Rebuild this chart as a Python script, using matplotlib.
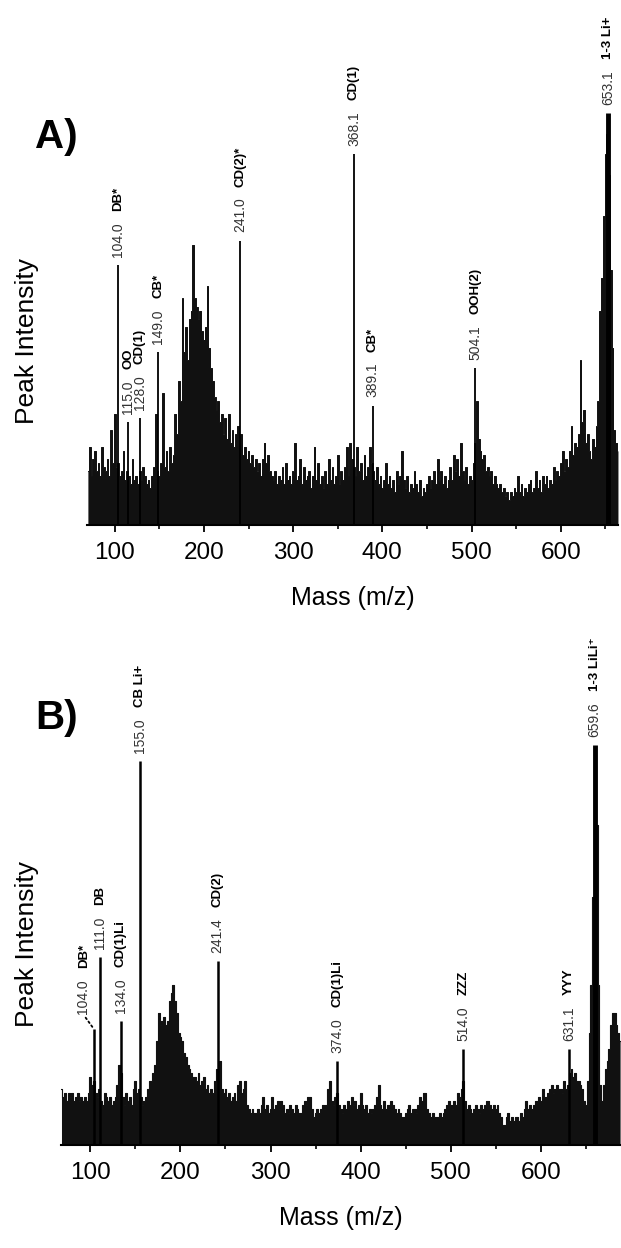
import matplotlib.pyplot as plt
from matplotlib.ticker import MultipleLocator

plt.rcParams['font.family'] = ['Liberation Sans', 'DejaVu Sans']

# ---- panel A: spectrum (m/z step 2), intensity in % of the base peak
mass_a = list(range(70, 666, 2))
int_a = [
    13, 19, 12, 16, 18, 13, 15, 12, 19, 14,
    13, 16, 12, 23, 15, 27, 14, 15, 12, 13,
    18, 11, 13, 12, 10, 16, 11, 12, 10, 13,
    11, 14, 12, 10, 11, 9, 12, 14, 27, 13,
    12, 15, 32, 14, 18, 13, 19, 15, 17, 27,
    22, 35, 30, 55, 42, 48, 40, 50, 52, 68,
    55, 53, 50, 52, 47, 45, 48, 58, 43, 38,
    35, 31, 28, 30, 25, 27, 22, 26, 21, 27,
    20, 23, 19, 22, 24, 20, 22, 17, 19, 16,
    18, 15, 17, 14, 16, 13, 15, 12, 16, 20,
    15, 17, 13, 12, 11, 13, 10, 12, 11, 14,
    10, 15, 11, 12, 10, 13, 20, 11, 12, 16,
    10, 14, 11, 12, 13, 9, 12, 19, 11, 15,
    10, 12, 9, 13, 10, 16, 11, 14, 10, 12,
    17, 10, 13, 11, 14, 19, 12, 20, 16, 14,
    12, 19, 13, 15, 11, 17, 12, 14, 19, 15,
    13, 11, 14, 10, 12, 9, 11, 15, 10, 12,
    9, 11, 8, 13, 10, 12, 18, 11, 9, 12,
    8, 10, 9, 13, 10, 8, 11, 7, 9, 8,
    10, 12, 9, 11, 13, 10, 16, 11, 13, 10,
    12, 9, 11, 14, 11, 17, 13, 16, 12, 20,
    13, 11, 14, 10, 12, 11, 15, 20, 30, 21,
    18, 16, 17, 13, 14, 12, 13, 10, 12, 10,
    9, 10, 8, 9, 7, 8, 6, 8, 7, 9,
    8, 12, 8, 10, 7, 9, 8, 10, 11, 8,
    9, 13, 9, 11, 8, 12, 10, 12, 9, 11,
    10, 14, 11, 13, 12, 15, 18, 13, 16, 14,
    18, 24, 17, 20, 19, 22, 40, 25, 28, 20,
    22, 18, 16, 21, 19, 24, 30, 52, 60, 75,
    90, 95, 85, 62, 43, 23, 20, 18,
]
peak_mass_a = [104.0, 115.0, 128.0, 149.0, 241.0, 368.1, 389.1, 504.1, 653.1]
peak_int_a = [63, 25, 26, 42, 69, 90, 29, 38, 100]
peak_num_a = ["104.0", "115.0", "128.0", "149.0", "241.0", "368.1", "389.1", "504.1", "653.1"]
peak_name_a = ["DB*", "OO", "CD(1)", "CB*", "CD(2)*", "CD(1)", "CB*", "OOH(2)", "1-3 Li+"]

# ---- panel B
mass_b = list(range(68, 690, 2))
int_b = [
    14, 12, 13, 11, 13, 12, 13, 11, 12, 13,
    11, 12, 11, 12, 11, 13, 17, 15, 16, 13,
    12, 14, 11, 10, 13, 12, 11, 12, 10, 11,
    12, 15, 20, 18, 12, 10, 13, 11, 12, 10,
    14, 16, 13, 14, 12, 10, 11, 12, 14, 16,
    16, 18, 20, 26, 33, 30, 31, 32, 30, 31,
    36, 38, 40, 36, 33, 28, 27, 26, 23, 22,
    20, 19, 18, 17, 17, 16, 18, 15, 16, 17,
    14, 15, 13, 14, 13, 16, 19, 17, 21, 14,
    13, 14, 12, 13, 11, 12, 13, 11, 15, 16,
    13, 14, 16, 10, 9, 8, 9, 8, 8, 9,
    8, 10, 12, 9, 10, 8, 9, 12, 9, 10,
    11, 9, 11, 10, 8, 9, 8, 10, 9, 8,
    10, 9, 8, 8, 10, 11, 10, 12, 12, 9,
    7, 8, 9, 8, 9, 10, 9, 10, 14, 16,
    11, 10, 12, 13, 10, 9, 8, 10, 9, 11,
    10, 12, 10, 11, 9, 10, 13, 10, 9, 10,
    8, 9, 8, 9, 10, 12, 15, 10, 9, 11,
    9, 10, 9, 11, 10, 9, 8, 9, 8, 7,
    7, 8, 9, 10, 8, 9, 9, 8, 10, 12,
    11, 13, 13, 9, 8, 7, 8, 7, 7, 7,
    8, 7, 8, 9, 10, 11, 10, 9, 11, 10,
    13, 12, 14, 16, 11, 9, 10, 9, 8, 9,
    10, 9, 8, 10, 9, 10, 11, 11, 10, 9,
    10, 9, 10, 8, 7, 5, 5, 7, 8, 6,
    7, 6, 7, 7, 6, 8, 7, 9, 11, 9,
    10, 9, 10, 11, 11, 12, 11, 14, 12, 12,
    13, 14, 15, 13, 14, 15, 14, 14, 13, 16,
    14, 15, 18, 19, 17, 18, 16, 16, 15, 14,
    11, 10, 16, 28, 40, 62, 95, 80, 40, 15,
    11, 15, 19, 21, 24, 30, 33, 33, 30, 28, 26,
]
peak_mass_b = [104.0, 111.0, 134.0, 155.0, 241.4, 374.0, 514.0, 631.1, 659.6]
peak_int_b = [29, 47, 31, 96, 46, 21, 24, 24, 100]
peak_num_b = ["104.0", "111.0", "134.0", "155.0", "241.4", "374.0", "514.0", "631.1", "659.6"]
peak_name_b = ["DB*", "DB", "CD(1)Li", "CB Li+", "CD(2)", "CD(1)Li", "ZZZ", "YYY", "1-3 LiLi\u207a"]


def label_peak(ax, m, h, num, name, dx=0, dy=6, leader=False):
    arrow = None
    if leader:
        arrow = dict(arrowstyle='-', linestyle=':', lw=1.3, color='black',
                     shrinkA=1, shrinkB=1, relpos=(0.5, 0))
    t = ax.annotate(num, xy=(m, h), xytext=(dx, dy), textcoords='offset points',
                    rotation=90, ha='center', va='bottom', fontsize=10,
                    color='#333333', arrowprops=arrow)
    ax.annotate(name, xy=(0.5, 1), xycoords=t, xytext=(0, 8),
                textcoords='offset points', rotation=90, ha='center',
                va='bottom', fontsize=9.5, fontweight='bold', color='black')


def style_axis(ax, xmin, xmax):
    ax.set_xlim(xmin, xmax)
    ax.set_ylim(0, 100)
    for s in ['left', 'top', 'right']:
        ax.spines[s].set_visible(False)
    ax.spines['bottom'].set_linewidth(1.5)
    ax.set_yticks([])
    ax.xaxis.set_major_locator(MultipleLocator(100))
    ax.xaxis.set_minor_locator(MultipleLocator(50))
    ax.tick_params(axis='x', which='major', direction='out', length=5,
                   width=1.3, pad=7, labelsize=17.5)
    ax.tick_params(axis='x', which='minor', direction='out', length=3, width=1.2)
    ax.set_xlabel("Mass (m/z)", fontsize=18, labelpad=16)
    ax.patch.set_alpha(0)


fig = plt.figure(figsize=(6.21, 12.48), dpi=100)

# ---- A
ax_a = fig.add_axes([0.1401, 0.5793, 0.855, 0.3301])
ax_a.fill_between(mass_a, int_a, step='mid', color='#111111', lw=0)
ax_a.step(mass_a, int_a, where='mid', color='#111111', lw=0.7)
ax_a.vlines(peak_mass_a[:-1], 0, peak_int_a[:-1], color='black', lw=1.3)
ax_a.vlines(peak_mass_a[-1:], 0, peak_int_a[-1:], color='black', lw=3.5)
style_axis(ax_a, 69, 664)
for m, h, n, lab in zip(peak_mass_a, peak_int_a, peak_num_a, peak_name_a):
    label_peak(ax_a, m, h, n, lab)

# ---- B
ax_b = fig.add_axes([0.099, 0.0825, 0.901, 0.3205])
ax_b.fill_between(mass_b, int_b, step='mid', color='#111111', lw=0)
ax_b.step(mass_b, int_b, where='mid', color='#111111', lw=0.8)
ax_b.vlines(peak_mass_b[:-1], 0, peak_int_b[:-1], color='black', lw=1.8)
ax_b.vlines(peak_mass_b[-1:], 0, peak_int_b[-1:], color='black', lw=3.5)
style_axis(ax_b, 68, 689)
for i, (m, h, n, lab) in enumerate(zip(peak_mass_b, peak_int_b, peak_num_b, peak_name_b)):
    if i == 0:
        label_peak(ax_b, m, h, n, lab, dx=-8, dy=11, leader=True)
    else:
        label_peak(ax_b, m, h, n, lab)

# panel letters and y labels
fig.text(35 / 621, 1 - 137 / 1248, "A)", fontsize=29, fontweight='bold', ha='left', va='center')
fig.text(35 / 621, 1 - 718 / 1248, "B)", fontsize=29, fontweight='bold', ha='left', va='center')
fig.text(27 / 621, 1 - 341 / 1248, "Peak Intensity", fontsize=19, rotation=90, ha='center', va='center')
fig.text(27 / 621, 1 - 944 / 1248, "Peak Intensity", fontsize=19, rotation=90, ha='center', va='center')

fig.savefig("out.png", dpi=100)
